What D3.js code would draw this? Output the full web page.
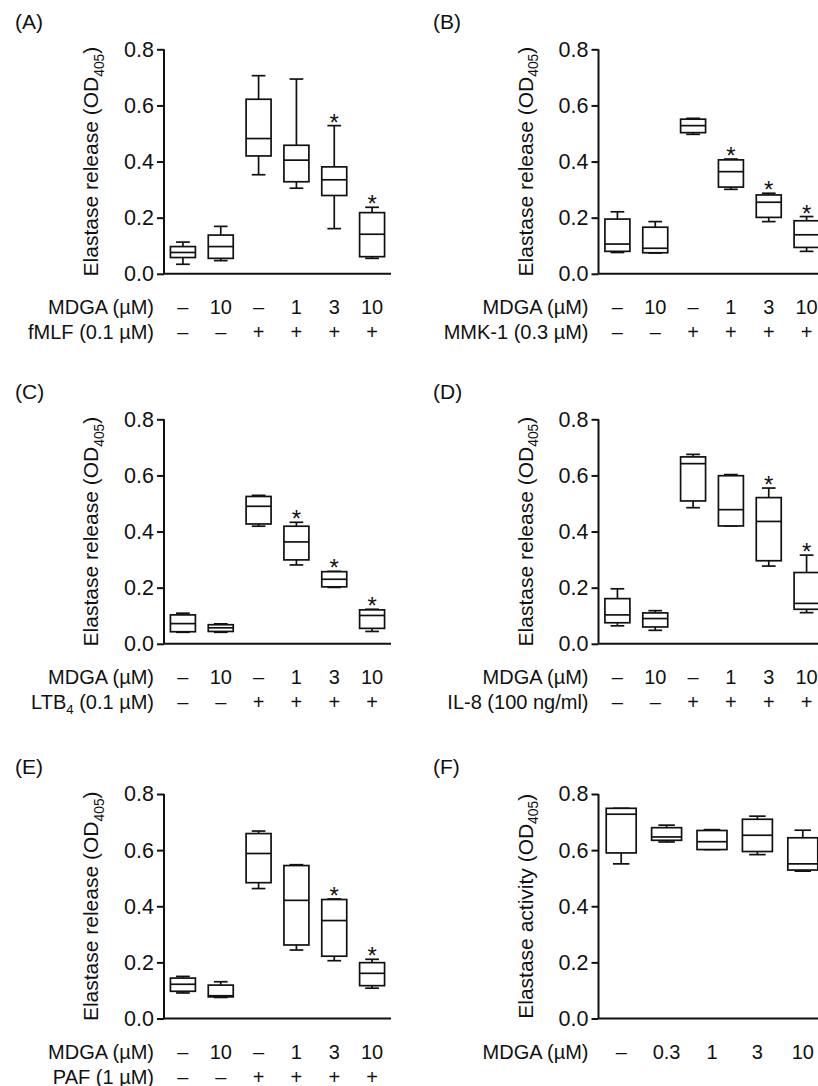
<!DOCTYPE html>
<html>
<head>
<meta charset="utf-8">
<script src="https://cdn.jsdelivr.net/npm/d3@7"></script>
<style>
  body { margin: 0; background: #fff; }
  svg { display: block; font-family: "Liberation Sans", Arial, sans-serif; }
</style>
</head>
<body>
<svg id="fig" width="818" height="1086"></svg>
<script>
// values, each box is [min, q1, median, q3, max]
const yTicks = [0, 0.2, 0.4, 0.6, 0.8];
const mdgaDoses = ["–", "10", "–", "1", "3", "10"];
const stimSigns = ["–", "–", "+", "+", "+", "+"];
const mdgaDosesF = ["–", "0.3", "1", "3", "10"];

const fmlfBoxes = [
  [0.034, 0.058, 0.076, 0.097, 0.113],
  [0.047, 0.055, 0.097, 0.138, 0.169],
  [0.353, 0.420, 0.482, 0.622, 0.706],
  [0.305, 0.328, 0.405, 0.458, 0.694],
  [0.161, 0.279, 0.335, 0.381, 0.528],
  [0.055, 0.061, 0.141, 0.218, 0.237]
];
const fmlfStars = [0, 0, 0, 0, 1, 1];

const mmkBoxes = [
  [0.076, 0.080, 0.106, 0.195, 0.221],
  [0.074, 0.075, 0.091, 0.166, 0.186],
  [0.497, 0.503, 0.528, 0.551, 0.554],
  [0.301, 0.309, 0.364, 0.406, 0.409],
  [0.186, 0.201, 0.255, 0.281, 0.287],
  [0.080, 0.094, 0.139, 0.189, 0.204]
];
const mmkStars = [0, 0, 0, 1, 1, 1];

const ltbBoxes = [
  [0.041, 0.043, 0.072, 0.103, 0.109],
  [0.041, 0.044, 0.057, 0.068, 0.071],
  [0.419, 0.427, 0.490, 0.525, 0.529],
  [0.281, 0.299, 0.363, 0.419, 0.433],
  [0.201, 0.203, 0.230, 0.257, 0.258],
  [0.044, 0.055, 0.101, 0.121, 0.123]
];
const ltbStars = [0, 0, 0, 1, 1, 1];

const il8Boxes = [
  [0.064, 0.075, 0.103, 0.161, 0.196],
  [0.048, 0.060, 0.090, 0.110, 0.118],
  [0.485, 0.509, 0.642, 0.666, 0.675],
  [0.420, 0.420, 0.478, 0.599, 0.603],
  [0.277, 0.296, 0.436, 0.521, 0.555],
  [0.111, 0.123, 0.144, 0.254, 0.316]
];
const il8Stars = [0, 0, 0, 0, 1, 1];

const pafBoxes = [
  [0.091, 0.097, 0.122, 0.144, 0.150],
  [0.075, 0.077, 0.081, 0.119, 0.131],
  [0.463, 0.484, 0.588, 0.659, 0.668],
  [0.244, 0.262, 0.421, 0.545, 0.548],
  [0.206, 0.222, 0.349, 0.424, 0.426],
  [0.108, 0.117, 0.161, 0.199, 0.211]
];
const pafStars = [0, 0, 0, 0, 1, 1];

const activityBoxes = [
  [0.551, 0.590, 0.728, 0.749, 0.749],
  [0.629, 0.635, 0.647, 0.680, 0.689],
  [0.602, 0.602, 0.630, 0.670, 0.673],
  [0.584, 0.595, 0.653, 0.710, 0.721],
  [0.525, 0.529, 0.551, 0.644, 0.671]
];
const activityStars = [0, 0, 0, 0, 0];

// text pieces: odd entries are drawn as subscripts
const releaseLabel = ["Elastase release (OD", "405", ")"];
const activityLabel = ["Elastase activity (OD", "405", ")"];
const stimLabels = [
  ["fMLF (0.1 µM)"],
  ["MMK-1 (0.3 µM)"],
  ["LTB", "4", " (0.1 µM)"],
  ["IL-8 (100 ng/ml)"],
  ["PAF (1 µM)"]
];

const svg = d3.select("#fig");
const plotW = 227, plotH = 224.5;
const ink = "#111";

// add text made of normal / subscript pieces
function richText(sel, parts, size) {
  const sub = size * 0.66, shift = size * 0.28;
  parts.forEach((p, i) => {
    const t = sel.append("tspan").text(p);
    if (i % 2 == 1) t.attr("font-size", sub).attr("dy", shift);
    else if (i > 0) t.attr("dy", -shift);
  });
}

function drawPanel(opt) {
  const g = svg.append("g").attr("transform", `translate(${opt.x},${opt.top})`);

  const y = d3.scaleLinear().domain([0, 0.8]).range([plotH, 0]);
  const x = d3.scaleBand().domain(d3.range(opt.boxes.length)).range([0, plotW]);
  const bw = x.bandwidth() * 0.66, cap = bw * 0.55;

  // panel letter
  svg.append("text")
    .attr("x", opt.letterX).attr("y", opt.top - 20)
    .attr("font-size", 21).attr("fill", ink)
    .text(opt.letter);

  // y axis
  const ax = g.append("g")
    .call(d3.axisLeft(y).tickValues(yTicks).tickFormat(d3.format(".1f")).tickSize(7).tickPadding(3));
  ax.select(".domain").attr("stroke", ink).attr("stroke-width", 2).attr("d", `M0,${plotH}V0`);
  ax.selectAll(".tick line").attr("stroke", ink).attr("stroke-width", 2);
  ax.selectAll(".tick text").attr("font-size", 21.5).attr("fill", ink)
    .attr("font-family", "Liberation Sans, Arial, sans-serif");

  // x axis line
  g.append("line")
    .attr("x1", 0).attr("x2", plotW)
    .attr("y1", y(0)).attr("y2", y(0))
    .attr("stroke", ink).attr("stroke-width", 2);

  // y label
  const yl = g.append("text")
    .attr("transform", `translate(${opt.labelDx},${plotH / 2}) rotate(-90)`)
    .attr("text-anchor", "middle")
    .attr("font-size", 21).attr("fill", ink);
  richText(yl, opt.yLabel, 21);

  // boxes
  const boxes = g.append("g").selectAll("g")
    .data(opt.boxes).enter()
    .append("g")
    .attr("transform", (d, i) => `translate(${x(i) + x.bandwidth() / 2},0)`)
    .attr("stroke", ink).attr("stroke-width", 1.7).attr("fill", "none");

  boxes.append("line").attr("x1", 0).attr("x2", 0)
    .attr("y1", d => y(d[3])).attr("y2", d => y(d[4]));
  boxes.append("line").attr("x1", 0).attr("x2", 0)
    .attr("y1", d => y(d[1])).attr("y2", d => y(d[0]));
  boxes.append("line").attr("x1", -cap / 2).attr("x2", cap / 2)
    .attr("y1", d => y(d[4])).attr("y2", d => y(d[4]));
  boxes.append("line").attr("x1", -cap / 2).attr("x2", cap / 2)
    .attr("y1", d => y(d[0])).attr("y2", d => y(d[0]));
  boxes.append("rect")
    .attr("x", -bw / 2).attr("width", bw)
    .attr("y", d => y(d[3]))
    .attr("height", d => y(d[1]) - y(d[3]))
    .attr("fill", "#fff");
  boxes.append("line").attr("x1", -bw / 2).attr("x2", bw / 2)
    .attr("y1", d => y(d[2])).attr("y2", d => y(d[2]));

  // significance marks
  boxes.filter((d, i) => opt.stars[i])
    .append("text")
    .attr("stroke", "none").attr("fill", ink)
    .attr("text-anchor", "middle")
    .attr("font-size", 24)
    .attr("y", d => y(d[4]) + 5)
    .text("*");

  // rows under the axis
  const rows = [{ name: [opt.doseName], vals: opt.doses, dy: 33 }];
  if (opt.stim) rows.push({ name: opt.stim, vals: stimSigns, dy: 58 });
  rows.forEach(r => {
    const t = g.append("text")
      .attr("x", -10).attr("y", plotH + r.dy).attr("dy", "0.35em")
      .attr("text-anchor", "end").attr("font-size", 20).attr("fill", ink);
    richText(t, r.name, 20);
    g.append("g").selectAll("text")
      .data(r.vals).enter()
      .append("text")
      .attr("x", (d, i) => x(i) + x.bandwidth() / 2)
      .attr("y", plotH + r.dy).attr("dy", "0.35em")
      .attr("text-anchor", "middle").attr("font-size", 20).attr("fill", ink)
      .text(d => d);
  });
}

const leftX = 164, rightX = 598.5;
const tops = [49.3, 419.3, 794];

drawPanel({ letter: "(A)", letterX: 15, x: leftX, top: tops[0], boxes: fmlfBoxes, stars: fmlfStars,
  yLabel: releaseLabel, labelDx: -66, doseName: "MDGA (µM)", doses: mdgaDoses, stim: stimLabels[0] });
drawPanel({ letter: "(B)", letterX: 433, x: rightX, top: tops[0], boxes: mmkBoxes, stars: mmkStars,
  yLabel: releaseLabel, labelDx: -66, doseName: "MDGA (µM)", doses: mdgaDoses, stim: stimLabels[1] });
drawPanel({ letter: "(C)", letterX: 15, x: leftX, top: tops[1], boxes: ltbBoxes, stars: ltbStars,
  yLabel: releaseLabel, labelDx: -66, doseName: "MDGA (µM)", doses: mdgaDoses, stim: stimLabels[2] });
drawPanel({ letter: "(D)", letterX: 433, x: rightX, top: tops[1], boxes: il8Boxes, stars: il8Stars,
  yLabel: releaseLabel, labelDx: -66, doseName: "MDGA (µM)", doses: mdgaDoses, stim: stimLabels[3] });
drawPanel({ letter: "(E)", letterX: 15, x: leftX, top: tops[2], boxes: pafBoxes, stars: pafStars,
  yLabel: releaseLabel, labelDx: -66, doseName: "MDGA (µM)", doses: mdgaDoses, stim: stimLabels[4] });
drawPanel({ letter: "(F)", letterX: 433, x: rightX, top: tops[2], boxes: activityBoxes, stars: activityStars,
  yLabel: activityLabel, labelDx: -66, doseName: "MDGA (µM)", doses: mdgaDosesF, stim: null });
</script>
</body>
</html>
